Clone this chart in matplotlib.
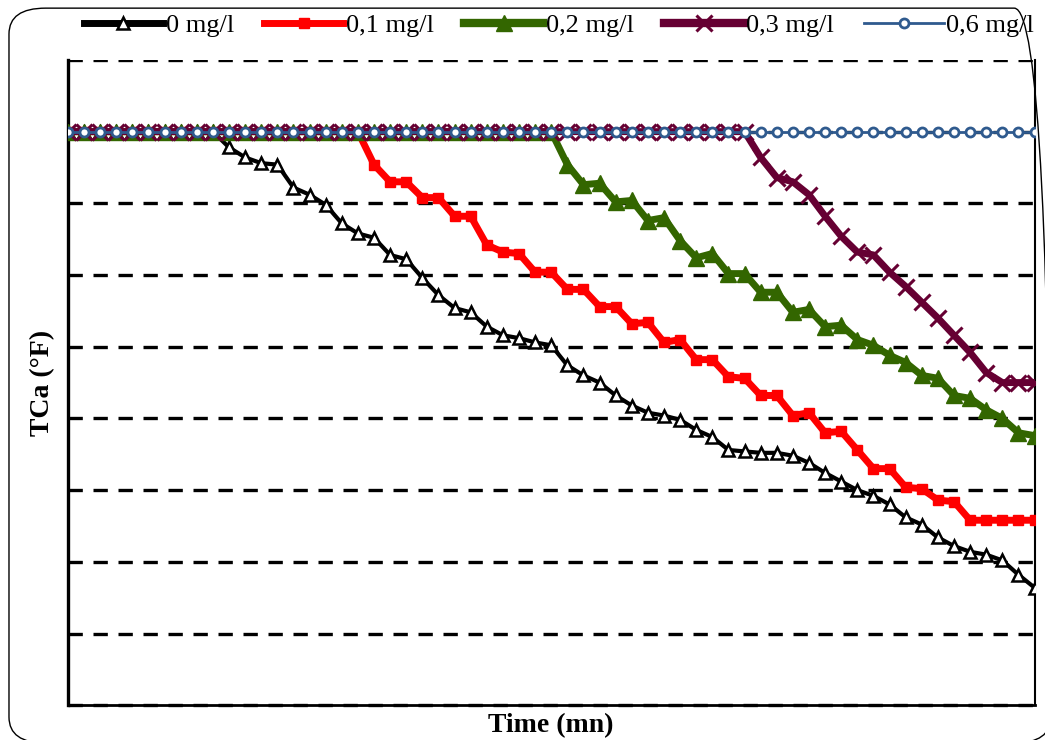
"""TCa vs time for several inhibitor doses (no tick labels, as in the source figure)."""

import matplotlib

matplotlib.use("Agg")
import matplotlib.pyplot as plt  # noqa: E402
from matplotlib.patches import FancyBboxPatch  # noqa: E402

plt.rcParams["font.family"] = ["Liberation Serif", "DejaVu Serif"]

# time axis (mn) and TCa (°F) per dose
time = list(range(61))
labels = ["0 mg/l", "0,1 mg/l", "0,2 mg/l", "0,3 mg/l", "0,6 mg/l"]
tca_0 = [40.0] * 10 + [
    38.9, 38.2, 37.8, 37.7, 36.1, 35.6, 34.9, 33.6, 32.9, 32.6,
    31.4, 31.1, 29.8, 28.6, 27.7, 27.4, 26.4, 25.8, 25.6, 25.3,
    25.1, 23.7, 23.0, 22.5, 21.6, 20.9, 20.4, 20.2, 19.9, 19.2,
    18.7, 17.8, 17.7, 17.6, 17.6, 17.4, 16.9, 16.2, 15.6, 15.0,
    14.6, 14.0, 13.1, 12.6, 11.7, 11.1, 10.7, 10.5, 10.1, 9.1, 8.2,
]
tca_01 = [40.0] * 19 + [
    37.7, 36.5, 36.5, 35.4, 35.4, 34.1, 34.1, 32.1, 31.6, 31.5,
    30.2, 30.2, 29.0, 29.0, 27.8, 27.8, 26.6, 26.7, 25.3, 25.5,
    24.1, 24.1, 22.9, 22.8, 21.6, 21.6, 20.2, 20.4, 19.0, 19.1,
    17.8, 16.5, 16.5, 15.2, 15.1, 14.3, 14.2, 12.9, 12.9, 12.9,
    12.9, 12.9,
]
tca_02 = [40.0] * 31 + [
    37.7, 36.3, 36.4, 35.1, 35.2, 33.8, 34.0, 32.4, 31.2, 31.5,
    30.1, 30.1, 28.8, 28.8, 27.4, 27.6, 26.4, 26.5, 25.5, 25.1,
    24.4, 23.9, 23.0, 22.8, 21.6, 21.4, 20.6, 20.0, 19.0, 18.8,
]
tca_03 = [40.0] * 43 + [
    38.2, 36.8, 36.5, 35.6, 34.1, 32.7, 31.6, 31.4, 30.2, 29.2,
    28.1, 27.0, 25.8, 24.6, 23.2, 22.5, 22.5, 22.5,
]
tca_06 = [40.0] * 61
grid_levels = [5, 10, 15, 20, 25, 30, 35, 40, 45]

fig = plt.figure(figsize=(10.45, 7.4), dpi=100)
fig.patches.append(
    FancyBboxPatch(
        (0.0086, -0.004), 0.997, 0.993,
        boxstyle="round,pad=0,rounding_size=0.035",
        transform=fig.transFigure, fill=False, lw=1.0, ec="black",
    )
)
ax = fig.add_axes([0.065, 0.047, 0.925, 0.872])

for level in grid_levels:
    ax.axhline(level, color="black", lw=2.4, dashes=(4.3, 3.2), zorder=1)
ax.axhline(0, color="black", lw=2.4, dashes=(4.3, 3.2), zorder=1, clip_on=False)

styles = [
    dict(color="black", lw=3, marker="^", ms=9, mfc="white", mec="black", mew=1.8),
    dict(color="#ff0000", lw=5, marker="s", ms=7.5, mfc="#ff0000", mec="#ff0000"),
    dict(color="#336600", lw=5, marker="^", ms=12, mfc="#336600", mec="#336600"),
    dict(color="#660033", lw=5, marker="x", ms=11, mec="#660033", mew=2.2),
    dict(color="#2f5a8e", lw=2, marker="o", ms=6.5, mfc="white", mec="#2f5a8e", mew=2),
]
series = [tca_0, tca_01, tca_02, tca_03, tca_06]
for values, label, style in zip(series, labels, styles):
    ax.plot(time, values, label=label, zorder=3, **style)

ax.set_xlim(0, 60)
ax.set_ylim(0, 45)
ax.set_xticks([])
ax.set_yticks([])
ax.spines["top"].set_visible(False)
ax.spines["left"].set_linewidth(2.4)
ax.spines["bottom"].set_linewidth(2.0)
ax.spines["right"].set_linewidth(1.5)
ax.set_xlabel("Time (mn)", fontsize=20, fontweight="bold", labelpad=6)
ax.set_ylabel("TCa (°F)", fontsize=20, fontweight="bold", labelpad=9)

legend = ax.legend(
    loc="center", bbox_to_anchor=(0.508, 1.054), ncol=5, frameon=False,
    fontsize=19, handlelength=3, handletextpad=0.1, columnspacing=1.15,
    markerscale=1.0, borderaxespad=0,
)
for line, lw in zip(legend.get_lines(), [5, 5, 6, 6, 2]):
    line.set_linewidth(lw)

fig.savefig("out.png", dpi=100)
plt.close(fig)
